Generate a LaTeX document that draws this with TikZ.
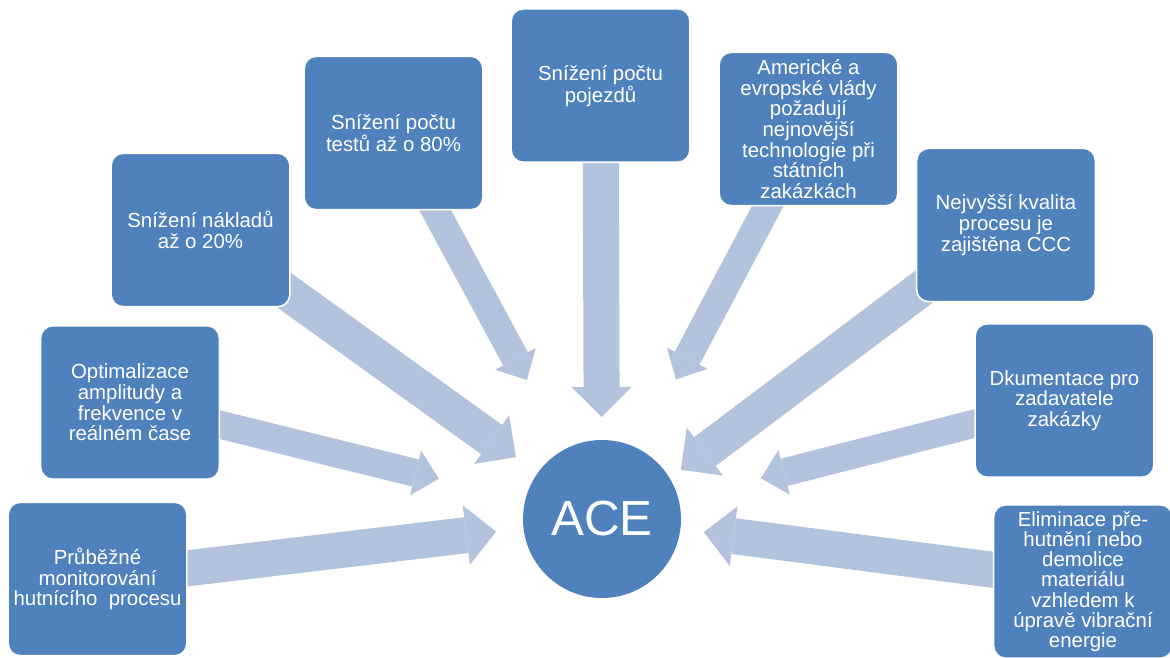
\documentclass[tikz,border=0pt]{standalone}
\usepackage{fontspec}
\setmainfont{Liberation Sans}
\usetikzlibrary{arrows.meta, backgrounds}
\definecolor{officeBlue}{RGB}{79, 129, 189}
\definecolor{officeLightBlue}{RGB}{179, 194, 221}

\begin{document}
\begin{tikzpicture}
    [
		x=0.75pt, y=-0.75pt,
		box/.style={
			draw=white, line width=1.2pt, rounded corners=9pt, fill=officeBlue,
			minimum width=134pt, minimum height=115pt, inner sep=2pt,
			align=center, text=white, font=\fontsize{15.3}{15.5}\selectfont
		},
		boxtext/.style={
			align=center, text=white, inner sep=0pt,
			font=\fontsize{15.3}{15.5}\selectfont
		},
		hub/.style={
			circle, fill=officeBlue, minimum size=118.5pt, text=white,
			font=\fontsize{37}{40}\selectfont
		},
		widearrow/.style={
			draw=officeLightBlue, line width=27pt,
			-{Triangle[width=45pt, length=22.5pt, line width=0pt]}
		},
		thinarrow/.style={
			draw=officeLightBlue, line width=21pt,
			-{Triangle[width=34.5pt, length=18pt, line width=0pt]}
		}
	]

\useasboundingbox (0,0) rectangle (1170,657);

% Nodes
\node (ace) [hub] at (602,519) {ACE};

\node (b1) [box] at (97.5,579) {Průběžné\\monitorování\\hutnícího\ \ procesu};
\node (b2) [box] at (130,402.5) {Optimalizace\\amplitudy a\\frekvence v\\reálném čase};
\node (b3) [box] at (200.5,230) {Snížení nákladů\\až o 20\%};
\node (b4) [box] at (393.5,133) {Snížení počtu\\testů až o 80\%};
\node (b5) [box] at (600.5,85.5) {};
\node (b5text) [boxtext, anchor=north] at ([yshift=-43pt]b5.north) {Snížení počtu\\pojezdů};
\node (b6) [box] at (808.5,129) {Americké a\\evropské vlády\\požadují\\nejnovější\\technologie při\\státních\\zakázkách};
\node (b7) [box] at (1006,225) {Nejvyšší kvalita\\procesu je\\zajištěna CCC};
\node (b8) [box] at (1064.5,400.5) {Dkumentace pro\\zadavatele\\zakázky};
\node (b9) [box, font=\fontsize{15.3}{15.2}\selectfont] at (1083,581.5) {Eliminace pře-\\hutnění nebo\\demolice\\materiálu\\vzhledem k\\úpravě vibrační\\energie};

% Arrows (behind the boxes)
\begin{pgfonlayer}{background}
\draw [widearrow, shorten >=80pt] (b1.center) -- (ace.center);
\draw [thinarrow, shorten >=126pt] (b2.center) -- (ace.center);
\draw [widearrow, shorten >=79.5pt] (b3.center) -- (ace.center);
\draw [thinarrow, shorten >=118.5pt] (b4.center) -- (ace.center);
\draw [widearrow, shorten >=76.5pt] (b5.center) -- (ace.center);
\draw [thinarrow, shorten >=118.5pt] (b6.center) -- (ace.center);
\draw [widearrow, shorten >=74pt] (b7.center) -- ([yshift=-7.5pt]ace.center);
\draw [thinarrow, shorten >=123pt] (b8.center) -- (ace.center);
\draw [widearrow, shorten >=77pt] (b9.center) -- (ace.center);
\end{pgfonlayer}

\end{tikzpicture}
\end{document}
